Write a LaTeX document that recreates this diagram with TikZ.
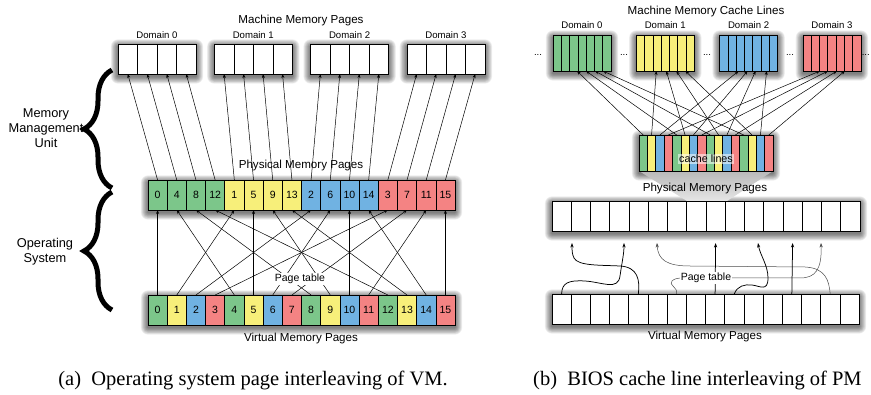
\documentclass[tikz,border=0pt]{standalone}
\usepackage{fontspec}
\setmainfont{Liberation Serif}
\newfontfamily\hel{Liberation Sans}
\usetikzlibrary{arrows.meta,calc,decorations.pathreplacing}
\definecolor{col0}{HTML}{7CC68A}
\definecolor{col1}{HTML}{F7EF7A}
\definecolor{col2}{HTML}{70B2E2}
\definecolor{col3}{HTML}{F48383}
\pgfdeclarelayer{bg}
\pgfsetlayers{bg,main}
\newcommand\softshadow[1]{%
  \begin{pgfonlayer}{bg}%
  \foreach \r in {1,...,12}{%
    \fill[black, opacity=0.055, rounded corners={\r*0.6pt}]
      ([xshift={-\r*0.6pt}, yshift={(\r*0.6-2.5)*1pt}]#1.north west) rectangle
      ([xshift={\r*0.6pt}, yshift={(-\r*0.6-2.5)*1pt}]#1.south east);
  }%
  \end{pgfonlayer}}
\begin{document}
\begin{tikzpicture}[x=1pt,y=-1pt,
  box/.style={draw=black, line width=0.8pt, fill=white, anchor=north west, inner sep=0pt, outer sep=0pt},
  cellbox/.style={draw=black, line width=0.6pt, anchor=north west, inner sep=0pt, outer sep=0pt, font=\hel\fontsize{10.5}{12}\selectfont},
  dlabel/.style={font=\hel\fontsize{9.6}{11}\selectfont, inner sep=1pt},
  title/.style={font=\hel\fontsize{11.6}{13}\selectfont, inner sep=1pt},
  side/.style={font=\hel\fontsize{12.8}{15}\selectfont, align=center, inner sep=1pt},
  ptlab/.style={font=\hel\fontsize{10.5}{12}\selectfont, fill=white, inner sep=1pt},
  captext/.style={font=\fontsize{20.5}{24}\selectfont, inner sep=0pt},
  arr/.style={-{Stealth[length=4pt,width=3pt]}, line width=0.5pt},
  carr/.style={-{Stealth[length=4.5pt,width=3.2pt]}, line width=0.75pt},
  thinarr/.style={-{Stealth[length=4.5pt,width=3.2pt]}, line width=0.5pt, draw=black!70},
  bracestyle/.style={decorate, decoration={brace, amplitude=28pt}, line width=5pt},
]
\useasboundingbox (0,0) rectangle (871,395);

%% ---------------- LEFT PANEL ----------------
\node[title] (lmtitle) at (301,21) {Machine Memory Pages};
\foreach \d in {0,...,3}{
  \pgfmathsetmacro\bx{118+96.3*\d}
  \node[box, minimum width=78pt, minimum height=30pt] (lmbox\d) at (\bx,44) {};
  \softshadow{lmbox\d}
  \foreach \k in {0,...,3}{
    \node[cellbox, minimum width=19.5pt, minimum height=30pt] (lm\d-\k) at (\bx+19.5*\k,44) {};
  }
  \node[dlabel] (lmlab\d) at (\bx+39,35) {Domain \d};
}
% physical pages
\node[box, minimum width=307pt, minimum height=30pt] (lpbox) at (148,180) {};
\softshadow{lpbox}
\foreach \p in {0,...,15}{
  \pgfmathtruncatemacro\n{4*mod(\p,4)+int(\p/4)}
  \pgfmathtruncatemacro\c{int(\p/4)}
  \node[cellbox, fill=col\c, minimum width=19.1875pt, minimum height=30pt] (lp\p) at (148+19.1875*\p,180) {\n};
}
% virtual pages
\node[box, minimum width=307pt, minimum height=30pt] (lvbox) at (148,295) {};
\softshadow{lvbox}
\foreach \p in {0,...,15}{
  \pgfmathtruncatemacro\c{mod(\p,4)}
  \node[cellbox, fill=col\c, minimum width=19.1875pt, minimum height=30pt] (lv\p) at (148+19.1875*\p,295) {\p};
}
% MMU arrows
\foreach \p in {0,...,15}{
  \pgfmathtruncatemacro\d{int(\p/4)}
  \pgfmathtruncatemacro\k{mod(\p,4)}
  \draw[arr] (lp\p.north) -- (lm\d-\k.south);
}
% OS arrows
\foreach \i in {0,...,15}{
  \pgfmathtruncatemacro\p{4*mod(\i,4)+int(\i/4)}
  \draw[arr] (lv\i.north) -- (lp\p.south);
}
\node[title] (lptitle) at (301,166) {Physical Memory Pages};
\node[ptlab] (lpt) at (300,279) {Page table};
\node[title] (lvtitle) at (301,339) {Virtual Memory Pages};
% braces
\draw[bracestyle] (112,188) -- (112,70);
\draw[bracestyle] (112,310) -- (112,192);
\node[side] (mmu) at (46,128) {Memory\\Management\\Unit};
\node[side] (os) at (45,252) {Operating\\System};

%% ---------------- RIGHT PANEL ----------------
\node[title] (rmtitle) at (706,12) {Machine Memory Cache Lines};
\foreach \d in {0,...,3}{
  \pgfmathsetmacro\bx{553+83.3*\d}
  \node[box, minimum width=58pt, minimum height=36pt] (rmbox\d) at (\bx,35) {};
  \softshadow{rmbox\d}
  \foreach \k in {0,...,6}{
    \node[cellbox, fill=col\d, minimum width=8.2857pt, minimum height=36pt] (rm\d-\k) at (\bx+8.2857*\k,35) {};
  }
  \node[dlabel] (rmlab\d) at (\bx+29,25) {Domain \d};
}
\foreach \x [count=\j] in {538,624,707,790}{
  \node[dlabel] (dots\j) at (\x,55) {...};
}
\node[dlabel, anchor=east] (dots5) at (871,55) {...};
% funnel
\shade[top color=gray!55, bottom color=gray!20] (639,171) -- (773,171) -- (727,201) -- (687,201) -- cycle;
% cache lines box
\node[box, minimum width=134pt, minimum height=36pt] (rcbox) at (639,135) {};
\softshadow{rcbox}
\foreach \i in {0,...,15}{
  \pgfmathtruncatemacro\c{mod(\i,4)}
  \node[cellbox, fill=col\c, minimum width=8.375pt, minimum height=36pt] (rc\i) at (639+8.375*\i,135) {};
}
\node[font=\hel\fontsize{10.7}{12}\selectfont, fill=white, fill opacity=0.55, text opacity=1, inner sep=1.5pt] (cl) at (706,159) {cache lines};
% cache arrows
\foreach \d/\offs in {0/{24,33,42,50},1/{20,30,40,49},2/{19,28,36,47},3/{17,25,34,42}}{
  \foreach \o [count=\k from 0] in \offs {
    \pgfmathtruncatemacro\i{4*\k+\d}
    \coordinate (rt\d-\k) at ($(rmbox\d.south west)+(\o,0)$);
    \draw[arr] (rc\i.north) -- (rt\d-\k);
  }
}
\node[title] (rptitle) at (705,189) {Physical Memory Pages};
% physical pages
\node[box, minimum width=308pt, minimum height=30pt] (rpbox) at (552,201) {};
\softshadow{rpbox}
\foreach \p in {0,...,15}{
  \node[cellbox, fill=white, minimum width=19.25pt, minimum height=30pt] (rp\p) at (552+19.25*\p,201) {};
}
% virtual pages
\node[box, minimum width=307pt, minimum height=30pt] (rvbox) at (552,294) {};
\softshadow{rvbox}
\foreach \p in {0,...,15}{
  \node[cellbox, fill=white, minimum width=19.1875pt, minimum height=30pt] (rv\p) at (552+19.1875*\p,294) {};
}
% page-table curves
\coordinate (ta) at (624,243);
\coordinate (tb) at (572,243);
\coordinate (tc) at (657,243);
\coordinate (td) at (758,243);
\coordinate (te) at (821,243);
\draw[carr] (rv0.north) .. controls (562,283) and (568,280) .. (585,281) .. controls (602,282) and (618,291) .. (620,276) .. controls (622,262) and (624,254) .. (ta);
\draw[carr] (rv4.north) .. controls (640,280) and (638,267) .. (620,266) .. controls (600,265) and (578,266) .. (574,258) .. controls (572,254) and (572,250) .. (tb);
\draw[thinarr] (rv14.north) .. controls (829,281) and (826,268) .. (805,267) -- (690,266) .. controls (667,266) and (658,260) .. (tc);
\draw[thinarr] (rv6.north) .. controls (678,287) and (668,285) .. (672,281) .. controls (674,279) and (677,278) .. (683,278) -- (800,278) .. controls (815,278) and (822,270) .. (te);
\draw[carr] (rv9.north) .. controls (737,286) and (745,284) .. (752,285) .. controls (760,286) and (768,292) .. (768,278) .. controls (768,265) and (760,255) .. (td);
\draw[carr] (rv8.north) -- ([yshift=-12pt]rp8.south);
\draw[carr] (rv12.north) -- ([yshift=-12pt]rp12.south);
\node[ptlab] (rpt) at (706,278) {Page table};
\node[title] (rvtitle) at (705,337) {Virtual Memory Pages};

%% captions
\node[captext, anchor=east] (capa) at (448,380) {(a)\enspace Operating system page interleaving of VM.};
\node[captext, anchor=west] (capb) at (533,380) {(b)\enspace BIOS cache line interleaving of PM};
\end{tikzpicture}
\end{document}
